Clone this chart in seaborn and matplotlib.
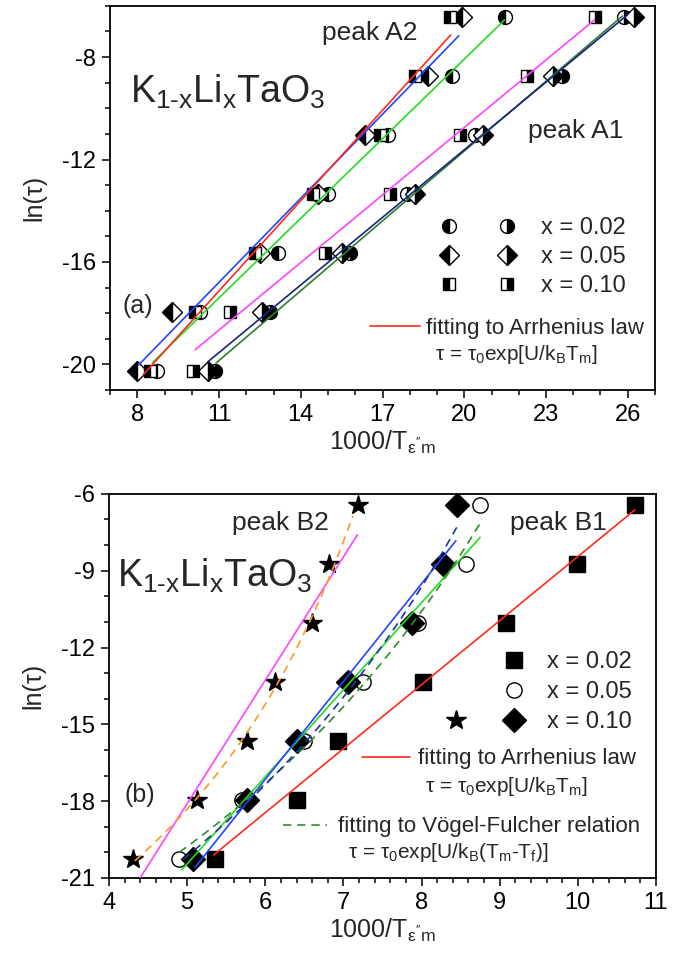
import numpy as np
import matplotlib
matplotlib.use("Agg")
import matplotlib.pyplot as plt
import seaborn as sns
from matplotlib.lines import Line2D
from matplotlib.legend_handler import HandlerTuple
from matplotlib.ticker import MultipleLocator

# ln(tau) levels of the measuring frequencies (same for all series)
ln_tau = [-6.44, -8.74, -11.04, -13.35, -15.65, -17.95, -20.25]

# panel (a): 1000/T of eps'' maxima, peak A2 (left-filled) and peak A1 (right-filled)
a2_x002 = [21.48, 19.54, 17.19, 15.00, 13.16, 10.30, 8.73]
a2_x005 = [19.90, 18.66, 16.35, 14.63, 12.50, 9.28, 8.00]
a2_x010 = [19.47, 18.18, 16.90, 14.45, 12.32, 10.12, 8.48]
a1_x002 = [25.88, 23.60, 20.40, 17.90, 15.80, 12.87, 10.86]
a1_x005 = [26.24, 23.24, 20.67, 18.18, 15.50, 12.58, 10.60]
a1_x010 = [24.81, 22.32, 19.83, 17.27, 14.89, 11.41, 10.05]

# panel (b): peak B1 (x=0.02, 0.05, 0.10) and peak B2 (x=0.10)
b1_x002 = [10.73, 9.99, 9.08, 8.02, 6.93, 6.41, 5.36]
b1_x005 = [8.75, 8.57, 7.96, 7.25, 6.49, 5.70, 4.89]
b1_x010 = [8.46, 8.28, 7.88, 7.06, 6.41, 5.77, 5.08]
b2_x010 = [7.19, 6.82, 6.60, 6.12, 5.77, 5.13, 4.31]

# Arrhenius fits: slope (U/kB in 1e3 K), intercept (ln tau0), fitted range of 1000/T
arr_a_slope = [1.036, 1.094, 1.176, 0.909, 0.880, 0.879]
arr_a_icpt = [-28.80, -28.83, -30.07, -29.85, -29.22, -28.33]
arr_a_lo = [8.55, 8.04, 8.22, 10.89, 10.60, 10.12]
arr_a_hi = [21.48, 19.80, 19.50, 25.80, 25.99, 24.78]
arr_a_col = ["#22dd22", "#2244ff", "#ff2a1a", "#2e7d32", "#1a237e", "#ff44ff"]

arr_b_slope = [2.50, 3.40, 3.82, 4.82]
arr_b_icpt = [-33.45, -37.45, -40.07, -42.20]
arr_b_lo = [5.34, 4.93, 5.10, 4.40]
arr_b_hi = [10.73, 8.75, 8.44, 7.18]
arr_b_col = ["#ff2a1a", "#22dd22", "#2244ff", "#ff44ff"]

# Vogel-Fulcher fits (fitted below) ranges
vf_lo = [4.90, 4.95, 4.33]
vf_hi = [8.78, 8.45, 7.12]
vf_col = ["#2e8b2e", "#2233aa", "#ff9922"]


def vf_fit(x, y):
    T = 1000.0 / np.asarray(x)
    y = np.asarray(y)
    best = None
    for tf in np.linspace(0, T.min() - 3, 600):
        X = np.column_stack([np.ones_like(T), 1.0 / (T - tf)])
        coef, *_ = np.linalg.lstsq(X, y, rcond=None)
        sse = np.sum((X @ coef - y) ** 2)
        if best is None or sse < best[0]:
            best = (sse, coef[0], coef[1], tf)
    return best[1:]


sns.set_theme(style="ticks")
plt.rcParams['font.family'] = ['Liberation Sans', 'DejaVu Sans']
plt.rcParams['mathtext.fontset'] = 'custom'
plt.rcParams['mathtext.rm'] = 'Liberation Sans'
plt.rcParams['mathtext.it'] = 'Liberation Sans'
plt.rcParams['mathtext.bf'] = 'Liberation Sans:bold'
plt.rcParams['axes.unicode_minus'] = False

fig = plt.figure(figsize=(6.85, 9.65), dpi=100)
ax_a = fig.add_axes([0.1606, 0.5959, 0.7956, 0.398])
ax_b = fig.add_axes([0.1591, 0.0902, 0.7985, 0.398])

half = dict(linestyle="none", markeredgecolor="black", markerfacecolor="black",
            markerfacecoloralt="white", markeredgewidth=1.0)
compound = r"K$_{\text{1-x}}$Li$_x$TaO$_3$"

# ---- panel (a) ----
for s, b, lo, hi, c in zip(arr_a_slope, arr_a_icpt, arr_a_lo, arr_a_hi, arr_a_col):
    xs = np.array([lo, hi])
    sns.lineplot(x=xs, y=b + s * xs, ax=ax_a, color=c, lw=1.2, zorder=3)

h_a = {}
for key, xv, mk, ms, fs in [("a2o", a2_x002, "o", 10, "left"), ("a2d", a2_x005, "D", 10, "left"),
                            ("a2s", a2_x010, "s", 9, "left"), ("a1o", a1_x002, "o", 10, "right"),
                            ("a1d", a1_x005, "D", 10, "right"), ("a1s", a1_x010, "s", 9, "right")]:
    h_a[key], = ax_a.plot(xv, ln_tau, marker=mk, ms=ms, fillstyle=fs, zorder=2, **half)

ax_a.set_xlim(7, 27)
ax_a.set_ylim(-21, -6)
ax_a.xaxis.set_major_locator(MultipleLocator(3, offset=2))
ax_a.xaxis.set_minor_locator(MultipleLocator(1))
ax_a.yaxis.set_major_locator(MultipleLocator(4))
ax_a.yaxis.set_minor_locator(MultipleLocator(1))

leg1 = ax_a.legend([(h_a["a2o"], h_a["a1o"]), (h_a["a2d"], h_a["a1d"]), (h_a["a2s"], h_a["a1s"])],
                   ["x = 0.02", "x = 0.05", "x = 0.10"],
                   handler_map={tuple: HandlerTuple(ndivide=None, pad=0)},
                   loc="center left", bbox_to_anchor=(0.569, 0.346), frameon=False,
                   fontsize=17, handlelength=4.9, handletextpad=0.2, labelspacing=0.3,
                   borderpad=0, borderaxespad=0)
ax_a.add_artist(leg1)
ax_a.legend([Line2D([], [], color="#ff2a1a", lw=1.2)], ["fitting to Arrhenius law"],
            loc="center left", bbox_to_anchor=(0.477, 0.161), frameon=False, fontsize=16,
            handlelength=2.25, handletextpad=0.25, borderpad=0, borderaxespad=0)
ax_a.text(0.596, 0.078, r"τ = τ$_0$exp[U/k$_\mathrm{B}$T$_\mathrm{m}$]", transform=ax_a.transAxes,
          fontsize=15, va="baseline")
ax_a.text(0.037, 0.747, compound, transform=ax_a.transAxes, fontsize=27, va="baseline")
ax_a.text(0.389, 0.911, "peak A2", transform=ax_a.transAxes, fontsize=19, va="baseline")
ax_a.text(0.767, 0.656, "peak A1", transform=ax_a.transAxes, fontsize=19, va="baseline")
ax_a.text(0.022, 0.200, "(a)", transform=ax_a.transAxes, fontsize=18, va="baseline")

# ---- panel (b) ----
for s, b, lo, hi, c in zip(arr_b_slope, arr_b_icpt, arr_b_lo, arr_b_hi, arr_b_col):
    xs = np.array([lo, hi])
    sns.lineplot(x=xs, y=b + s * xs, ax=ax_b, color=c, lw=1.2, zorder=3)

for xv, lo, hi, c in zip([b1_x005, b1_x010, b2_x010], vf_lo, vf_hi, vf_col):
    a0, b0, tf = vf_fit(xv, ln_tau)
    xs = np.linspace(lo, hi, 100)
    sns.lineplot(x=xs, y=a0 + b0 / (1000.0 / xs - tf), ax=ax_b, color=c, lw=1.2,
                 linestyle=(0, (5, 3.5)), zorder=3)

full = dict(linestyle="none", color="black", markeredgecolor="black")
h_sq, = ax_b.plot(b1_x002, ln_tau, marker="s", ms=11, zorder=2, **full)
h_ci, = ax_b.plot(b1_x005, ln_tau, marker="o", ms=11, markerfacecolor="white",
                  linestyle="none", markeredgecolor="black", markeredgewidth=1.0, zorder=2)
h_di, = ax_b.plot(b1_x010, ln_tau, marker="D", ms=12, zorder=2, **full)
h_st, = ax_b.plot(b2_x010, ln_tau, marker="*", ms=15, zorder=2, **full)

ax_b.set_xlim(4, 11)
ax_b.set_ylim(-21, -6)
ax_b.xaxis.set_major_locator(MultipleLocator(1))
ax_b.xaxis.set_minor_locator(MultipleLocator(0.2))
ax_b.yaxis.set_major_locator(MultipleLocator(3))
ax_b.yaxis.set_minor_locator(MultipleLocator(1))

blank = Line2D([], [], linestyle="none")
leg2 = ax_b.legend([(blank, h_sq), (blank, h_ci), (h_st, h_di)],
                   ["x = 0.02", "x = 0.05", "x = 0.10"],
                   handler_map={tuple: HandlerTuple(ndivide=None, pad=0)},
                   loc="center left", bbox_to_anchor=(0.581, 0.484), frameon=False,
                   fontsize=17, handlelength=4.9, handletextpad=0.2, labelspacing=0.33,
                   borderpad=0, borderaxespad=0)
ax_b.add_artist(leg2)
leg3 = ax_b.legend([Line2D([], [], color="#ff2a1a", lw=1.2)], ["fitting to Arrhenius law"],
                   loc="center left", bbox_to_anchor=(0.4625, 0.31), frameon=False, fontsize=16,
                   handlelength=2.16, handletextpad=0.36, borderpad=0, borderaxespad=0)
ax_b.add_artist(leg3)
ax_b.legend([Line2D([], [], color="#2e8b2e", lw=1.2, linestyle=(0, (5, 3.5)))],
            ["fitting to Vögel-Fulcher relation"],
            loc="center left", bbox_to_anchor=(0.318, 0.133), frameon=False, fontsize=16,
            handlelength=2.0, handletextpad=0.5, borderpad=0, borderaxespad=0)
ax_b.text(0.578, 0.224, r"τ = τ$_0$exp[U/k$_\mathrm{B}$T$_\mathrm{m}$]", transform=ax_b.transAxes,
          fontsize=15, va="baseline")
ax_b.text(0.437, 0.052, r"τ = τ$_0$exp[U/k$_\mathrm{B}$(T$_\mathrm{m}$-T$_\mathrm{f}$)]",
          transform=ax_b.transAxes, fontsize=15, va="baseline")
ax_b.text(0.015, 0.758, compound, transform=ax_b.transAxes, fontsize=27, va="baseline")
ax_b.text(0.225, 0.906, "peak B2", transform=ax_b.transAxes, fontsize=19, va="baseline")
ax_b.text(0.733, 0.906, "peak B1", transform=ax_b.transAxes, fontsize=19, va="baseline")
ax_b.text(0.029, 0.198, "(b)", transform=ax_b.transAxes, fontsize=18, va="baseline")

for ax in (ax_a, ax_b):
    ax.set_xlabel(r"1000/T$_{\mathrm{\varepsilon''m}}$", fontsize=18, labelpad=2)
    ax.set_ylabel("ln(τ)", fontsize=18, labelpad=11)
    ax.tick_params(which="both", direction="out", top=False, right=False,
                   width=1.1, labelsize=17, colors="black")
    ax.tick_params(which="major", length=6, pad=4)
    ax.tick_params(which="minor", length=3.5)
    for sp in ax.spines.values():
        sp.set_visible(True)
        sp.set_linewidth(1.3)
        sp.set_color("black")

fig.savefig("out.png", dpi=100)
